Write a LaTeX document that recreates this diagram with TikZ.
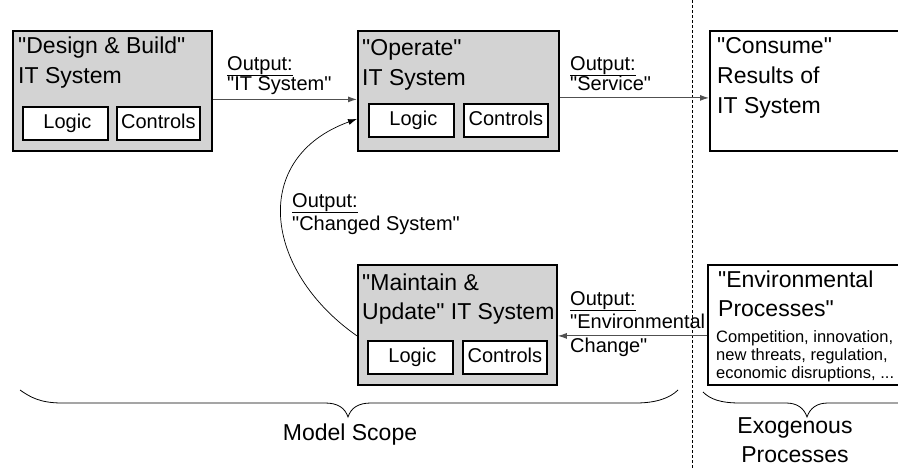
\documentclass[tikz,border=0pt]{standalone}
\usepackage{fontspec}
\setmainfont{Liberation Sans}[Ligatures=TeXOff]
\usetikzlibrary{arrows.meta,calc}

\definecolor{boxgray}{RGB}{211,211,211}
\definecolor{linegray}{RGB}{80,80,80}

\begin{document}
\begin{tikzpicture}[x=1pt,y=-1pt,
  procbox/.style={draw=black, line width=1.8pt, fill=boxgray, minimum width=199pt,
    minimum height=120pt, inner sep=0pt, anchor=north west},
  extbox/.style={draw=black, line width=1.8pt, fill=white, minimum width=230pt,
    minimum height=120pt, inner sep=0pt, anchor=north west},
  partbox/.style={draw=black, line width=1.8pt, fill=white, minimum height=33pt,
    inner sep=0pt, text height=15pt, text depth=5pt, anchor=north west,
    font=\fontsize{20}{24}\selectfont},
  title/.style={anchor=base west, inner sep=0pt, font=\fontsize{23}{28}\selectfont},
  small/.style={anchor=base west, inner sep=0pt, font=\fontsize{16.5}{19}\selectfont},
  lbl/.style={anchor=base west, inner sep=0pt, font=\fontsize{20}{23}\selectfont},
  big/.style={anchor=base, inner sep=0pt, font=\fontsize{23}{28}\selectfont},
  flow/.style={draw=linegray, line width=1pt, -{Latex[length=9pt,width=6pt]}},
  loop/.style={draw=black, line width=0.7pt, -{Latex[length=9pt,width=6pt]}},
  brace/.style={draw=black, line width=0.8pt},
]
\path[use as bounding box] (0,0) rectangle (898,469);
\clip (0,0) rectangle (898,469);

% divider between model scope and exogenous processes
\coordinate (divtop) at (692,0);
\coordinate (divbot) at (692,469);
\draw[line width=0.8pt, dash pattern=on 3pt off 2pt] (divtop) -- (divbot);

% ---------- Design & Build ----------
\node[procbox] (b1) at (12,30) {};
\node[title] (b1t1) at (18,53) {"Design \& Build"};
\node[title] (b1t2) at (18,83) {IT System};
\node[partbox, minimum width=85pt] (b1l) at (22,106) {\hspace*{4pt}Logic};
\node[partbox, minimum width=83pt] (b1c) at (116,106) {Controls};

% ---------- Operate ----------
\node[procbox, minimum width=201pt] (b2) at (357,30) {};
\node[title] (b2t1) at (362,55) {"Operate"};
\node[title] (b2t2) at (362,85) {IT System};
\node[partbox, minimum width=85pt] (b2l) at (368,103) {\hspace*{4pt}Logic};
\node[partbox, minimum width=84pt] (b2c) at (463,103) {Controls};

% ---------- Maintain & Update ----------
\node[procbox] (b4) at (357,264) {};
\node[title] (b4t1) at (362,290) {"Maintain \&};
\node[title] (b4t2) at (362,319) {Update" IT System};
\node[partbox, minimum width=85pt] (b4l) at (367,340) {\hspace*{4pt}Logic};
\node[partbox, minimum width=84pt] (b4c) at (462,340) {Controls};

% ---------- Consume ----------
\node[extbox] (b3) at (709,30) {};
\node[title] (b3t1) at (717,53) {"Consume"};
\node[title] (b3t2) at (717,83) {Results of};
\node[title] (b3t3) at (717,113) {IT System};

% ---------- labels on the flows ----------
\node[lbl] (o1a) at (227,70) {\underline{Output:}};
\node[lbl] (o1b) at (227,90) {"IT System"};
\node[lbl] (o2a) at (570,70) {\underline{Output:}};
\node[lbl] (o2b) at (570,90) {"Service"};
\node[lbl] (o3a) at (292,207) {\underline{Output:}};
\node[lbl] (o3b) at (292,230) {"Changed System"};
\node[lbl] (o4a) at (570,305) {\underline{Output:}};
\node[lbl] (o4b) at (570,328) {"Environmental};
\node[lbl] (o4c) at (570,352) {Change"};

% ---------- Environmental Processes ----------
\node[extbox] (b5) at (707,264) {};
\node[title] (b5t1) at (718,287) {"Environmental};
\node[title] (b5t2) at (718,316) {Processes"};
\node[small] (b5s1) at (716,342) {Competition, innovation,};
\node[small] (b5s2) at (716,360) {new threats, regulation,};
\node[small] (b5s3) at (716,378) {economic disruptions, ...};

% ---------- flows ----------
\draw[flow] ([yshift=-8.5pt]b1.east) -- ([yshift=-8.5pt]b1.west -| b2.west);
\draw[flow] ([yshift=-7pt]b2.east) -- ([yshift=-7pt]b2.east -| b3.west);
\draw[flow] ([yshift=-11pt]b5.west) -- ([yshift=-11pt]b5.west -| b4.east);
\draw[loop] ([yshift=-11pt]b4.west) to[out=145,in=200,looseness=1.35] ([yshift=-28pt]b2.west);

% ---------- braces ----------
\coordinate (ms0) at (20,390);
\coordinate (mstip) at (348,417);
\coordinate (ms1) at (678,390);
\draw[brace] (ms0) .. controls (30,397) and (40,403) .. (62,403)
  -- (325,403) .. controls (338,403) and (345,408) .. (mstip)
  .. controls (351,408) and (358,403) .. (371,403)
  -- (636,403) .. controls (656,403) and (670,398) .. (ms1);
\node[big] (scope) at (350,440) {Model Scope};

\coordinate (ex0) at (703,392);
\coordinate (extip) at (807,417);
\draw[brace] (ex0) .. controls (710,399) and (720,403) .. (740,403)
  -- (786,403) .. controls (797,403) and (804,408) .. (extip)
  .. controls (810,408) and (817,403) .. (828,403)
  -- (900,403);
\node[big] (exo1) at (795,433) {Exogenous};
\node[big] (exo2) at (795,462) {Processes};
\end{tikzpicture}
\end{document}
